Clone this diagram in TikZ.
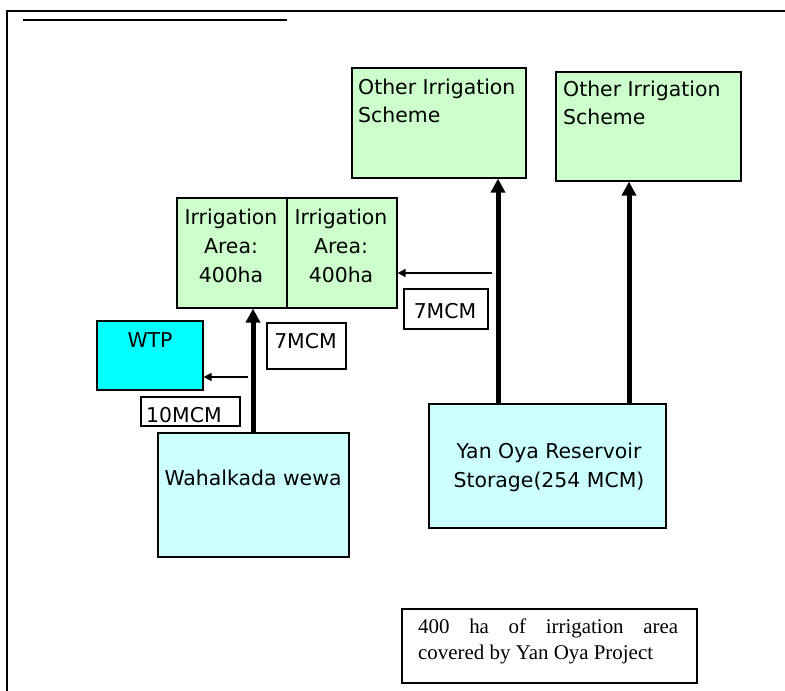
\documentclass[tikz,border=0pt]{standalone}
\usepackage{fontspec}
\setmainfont{Liberation Serif}
\newfontfamily\dvsans{DejaVu Sans}
\usetikzlibrary{arrows.meta}
\definecolor{lgreen}{RGB}{204,255,204}
\definecolor{lcyan}{RGB}{204,255,255}
\definecolor{wtpcyan}{RGB}{0,255,255}
\begin{document}
\begin{tikzpicture}[x=1bp,y=-1bp,
  box/.style={draw=black, line width=1.6bp, anchor=north west, inner sep=0pt},
  txt/.style={font=\dvsans\fontsize{20.5}{29}\selectfont, inner sep=0pt},
  bigarrow/.style={line width=5bp, -{Triangle[length=14bp,width=14bp]}},
  smallarrow/.style={line width=1.5bp, -{Triangle[length=8bp,width=8bp]}}]
\useasboundingbox (0,0) rectangle (785,691);
% frame
\draw[line width=2bp] (7,691) -- (7,11) -- (785,11);
\draw[line width=2.5bp] (23,20) -- (287,20);
% boxes
\node[box, fill=lgreen, minimum width=174bp, minimum height=110bp] (o1) at (351,67) {};
\node[box, fill=lgreen, minimum width=185bp, minimum height=109bp] (o2) at (555,71) {};
\node[box, fill=lgreen, minimum width=110bp, minimum height=110bp] (ia1) at (176,197) {};
\node[box, fill=lgreen, minimum width=110bp, minimum height=110bp] (ia2) at (286,197) {};
\node[box, fill=wtpcyan, minimum width=106bp, minimum height=69bp] (wtp) at (96,320) {};
\node[box, fill=lcyan, minimum width=191bp, minimum height=124bp] (ww) at (157,432) {};
\node[box, fill=lcyan, minimum width=237bp, minimum height=124bp] (yo) at (428,403) {};
\node[box, fill=white, minimum width=79bp, minimum height=46bp] (l7a) at (266,322) {};
\node[box, fill=white, minimum width=84bp, minimum height=40bp] (l7b) at (403,288) {};
\node[box, fill=white, minimum width=99bp, minimum height=29bp] (l10) at (140,396) {};
\node[box, fill=white, minimum width=295bp, minimum height=74bp] (note) at (401,608) {};
% texts (multi-line nodes are placed by the baseline of their last line)
\node[txt, anchor=base west, align=left] (o1t) at (358,123) {Other Irrigation\\Scheme};
\node[txt, anchor=base west, align=left] (o2t) at (563,125) {Other Irrigation\\Scheme};
\node[txt, anchor=base, align=center] (ia1t) at (231,282) {Irrigation\\Area:\\400ha};
\node[txt, anchor=base, align=center] (ia2t) at (341,282) {Irrigation\\Area:\\400ha};
\node[txt, anchor=base] (wtpt) at (150,347) {WTP};
\node[txt, anchor=base] (l7at) at (305.5,348) {7MCM};
\node[txt, anchor=base] (l7bt) at (445,318) {7MCM};
\node[txt, anchor=base west] (l10t) at (146,422) {10MCM};
\node[txt, anchor=base] (wwt) at (253,485) {Wahalkada wewa};
\node[txt, anchor=base, align=center] (yot) at (549,487) {Yan Oya Reservoir\\Storage(254 MCM)};
\node[anchor=base west, text width=260bp, align=justify, inner sep=0pt,
      font=\fontsize{21}{27}\selectfont] (notet) at (418,633)
      {400 ha of irrigation area\linebreak covered by Yan Oya Project};
% connectors
\draw[bigarrow] (253,0 |- ww.north) -- (253,0 |- ia1.south);
\draw[bigarrow] (498,0 |- yo.north) -- (498,0 |- o1.south);
\draw[bigarrow] (629,0 |- yo.north) -- (629,0 |- o2.south);
\coordinate (s1) at (248,377);
\coordinate (s2) at (492,273);
\draw[smallarrow] (s1) -- (wtp.east |- s1);
\draw[smallarrow] (s2) -- (ia2.east |- s2);
\end{tikzpicture}
\end{document}
